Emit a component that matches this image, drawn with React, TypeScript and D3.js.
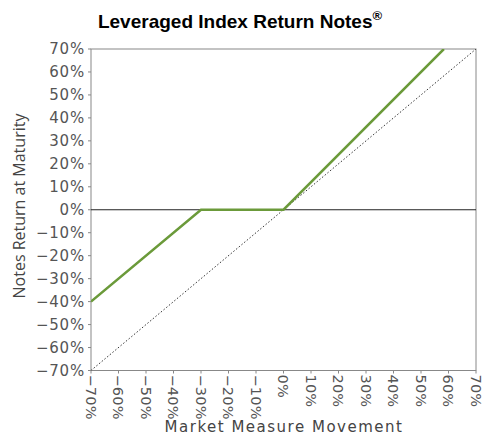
import React from "react";
import * as d3 from "d3";

const ticks = [-70, -60, -50, -40, -30, -20, -10, 0, 10, 20, 30, 40, 50, 60, 70];
const payoffX = [-70, -30, 0, 58.33];
const payoffY = [-40, 0, 0, 70];
const refX = [-70, 70];
const refY = [-70, 70];

const W = 485, H = 437;
const M = { left: 91, right: 476, top: 49, bottom: 370.5 };

export default function App() {
  const x = d3.scaleLinear().domain([-70, 70]).range([M.left, M.right]);
  const y = d3.scaleLinear().domain([-70, 70]).range([M.bottom, M.top]);
  const line = d3.line<[number, number]>().x(d => x(d[0])).y(d => y(d[1]));
  const payoff = payoffX.map((v, i) => [v, payoffY[i]] as [number, number]);
  const ref = refX.map((v, i) => [v, refY[i]] as [number, number]);
  const fmt = (v: number) => (v < 0 ? "\u2212" + Math.abs(v) : String(v)) + "%";
  const tickFont = "'DejaVu Sans', Verdana, sans-serif";
  return (
    <svg width={W} height={H} style={{ position: "absolute", left: 0, top: 0, background: "#fff" }}>
      <text x={240} y={28} textAnchor="middle" fontFamily="'Liberation Sans', Arial, sans-serif" fontWeight="bold" fontSize={19} fill="#000">
        Leveraged Index Return Notes<tspan dy={-8} fontSize={13}>®</tspan>
      </text>
      <defs>
        <clipPath id="plot"><rect x={M.left} y={M.top} width={M.right - M.left} height={M.bottom - M.top} /></clipPath>
      </defs>
      <rect x={M.left} y={M.top} width={M.right - M.left} height={M.bottom - M.top} fill="none" stroke="#888" strokeWidth={1} />
      <line x1={M.left} x2={M.right} y1={y(0)} y2={y(0)} stroke="#222" strokeWidth={1} />
      <path d={line(ref) || ""} fill="none" stroke="#333" strokeWidth={1} strokeDasharray="1.5,2" clipPath="url(#plot)" />
      <path d={line(payoff) || ""} fill="none" stroke="#6b9a3a" strokeWidth={2.5} clipPath="url(#plot)" />
      {ticks.map(t => (
        <g key={"y" + t}>
          <line x1={M.left - 3} x2={M.left} y1={y(t)} y2={y(t)} stroke="#888" />
          <text x={M.left - 6} y={y(t)} dy="0.35em" textAnchor="end" fontFamily={tickFont} fontSize={15} fill="#555" letterSpacing={0.8}>{fmt(t)}</text>
        </g>
      ))}
      {ticks.map(t => (
        <g key={"x" + t}>
          <line x1={x(t)} x2={x(t)} y1={M.bottom} y2={M.bottom + 3} stroke="#888" />
          <text transform={`translate(${x(t)},${M.bottom + 4}) rotate(90)`} dy="0.35em" textAnchor="start" fontFamily={tickFont} fontSize={14.5} fill="#555" letterSpacing={0.2}>{fmt(t)}</text>
        </g>
      ))}
      <text x={284} y={432} textAnchor="middle" fontFamily={tickFont} fontSize={15} fill="#444" letterSpacing={1.5}>Market Measure Movement</text>
      <text transform={`translate(25,206) rotate(-90)`} textAnchor="middle" fontFamily="'Open Sans', sans-serif" fontSize={16} fill="#444">Notes Return at Maturity</text>
    </svg>
  );
}
